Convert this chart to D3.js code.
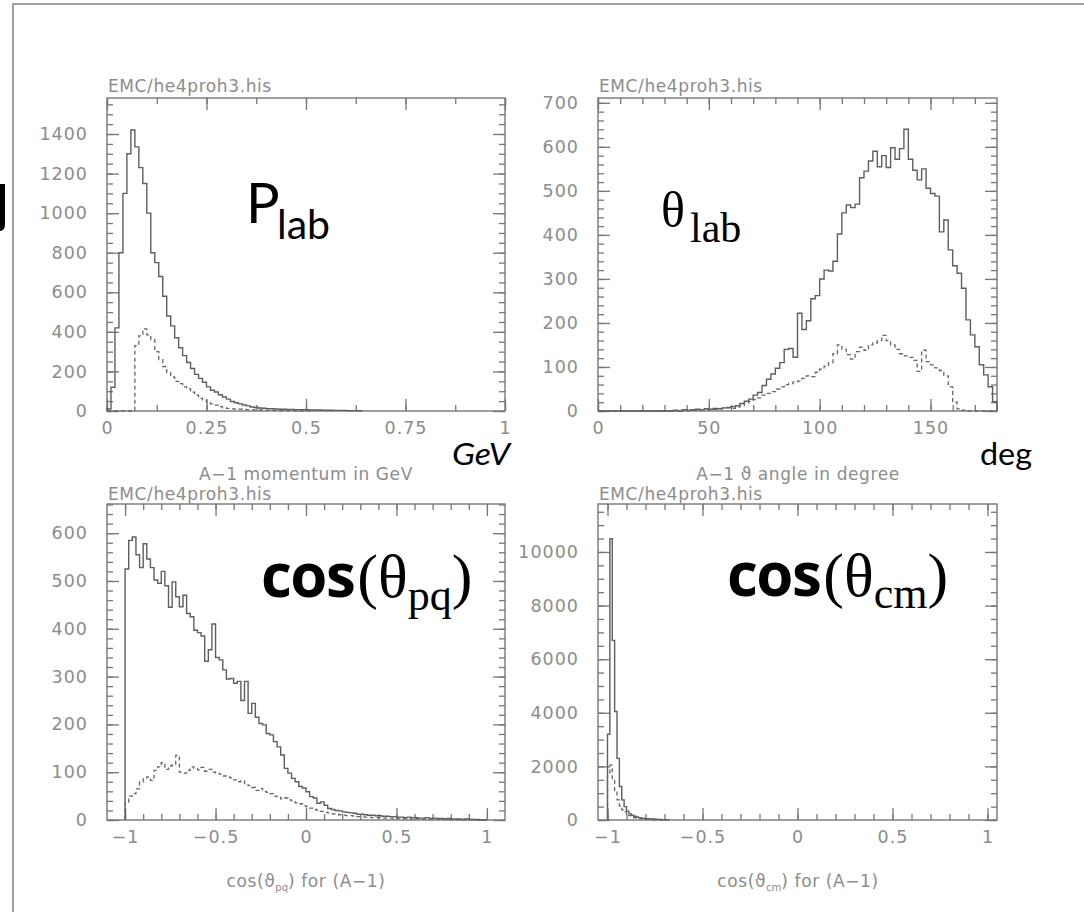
<!DOCTYPE html>
<html>
<head>
<meta charset="utf-8">
<script src="https://cdn.jsdelivr.net/npm/d3@7"></script>
<style>
    body { margin: 0; background: #fff; }
    svg { display: block; }
    .tick text { font-family: "DejaVu Sans", sans-serif; font-size: 17.5px; fill: #8c8c8c; letter-spacing: 1px; }
    .tick line { stroke: #777; stroke-width: 1.3; }
    .domain { display: none; }
    .hbook { font-family: "DejaVu Sans", sans-serif; font-size: 17px; fill: #8c8c8c; letter-spacing: 0.6px; }
</style>
</head>
<body>
<div id="chart"></div>
<script>
// ---- data: histogram counts per bin ----

// A-1 momentum in GeV, bins of 0.01 starting at 0
const pLabStart = 0, pLabBin = 0.01;
const pLabAll = [10, 120, 420, 800, 1100, 1300, 1420, 1335, 1230, 1150,
    1000, 800, 750, 680, 580, 480, 430, 370, 320, 280,
    245, 215, 185, 165, 145, 122, 105, 96, 82, 71,
    60, 48, 42, 36, 30, 26, 20, 18, 15, 14,
    12, 11, 10, 9, 9, 8, 8, 7, 7, 6,
    6, 5, 5, 5, 4, 4, 4, 3, 3, 3,
    2, 2, 2, 1];
const pLabCut = [0, 0, 0, 0, 0, 0, 0, 330, 380, 415,
    385, 360, 300, 260, 225, 195, 172, 150, 138, 122,
    112, 95, 80, 65, 55, 45, 36, 30, 22, 16,
    13, 11, 10, 9, 8, 7, 6, 6, 5, 4,
    4, 3, 3, 3, 2, 2, 2, 2, 1, 1, 1];

// A-1 theta angle in degree, bins of 2 deg starting at 0
const thLabStart = 0, thLabBin = 2;
const thLabAll = [0, 0, 0, 0, 0, 0, 0, 0, 0, 0,
    0, 0, 0, 0, 0, 0, 0, 2, 0, 3,
    2, 3, 4, 3, 5, 4, 6, 5, 7, 8,
    10, 12, 17, 22, 27, 36, 42, 58, 72, 84,
    97, 110, 140, 142, 122, 222, 185, 205, 255, 262,
    300, 320, 318, 340, 402, 450, 468, 462, 470, 530,
    545, 568, 590, 555, 580, 553, 598, 572, 596, 640,
    572, 547, 525, 550, 506, 494, 488, 407, 434, 366,
    330, 313, 279, 207, 173, 146, 105, 82, 55, 21];
const thLabCut = [0, 0, 0, 0, 0, 0, 0, 0, 0, 0,
    0, 0, 0, 0, 0, 0, 0, 1, 0, 2,
    1, 2, 2, 3, 3, 4, 4, 5, 6, 7,
    6, 9, 12, 18, 22, 26, 30, 36, 40, 44,
    50, 55, 60, 62, 66, 68, 74, 80, 78, 88,
    95, 102, 110, 130, 150, 140, 128, 118, 135, 145,
    138, 150, 155, 160, 172, 160, 150, 140, 130, 125,
    122, 115, 90, 138, 112, 105, 98, 92, 80, 55,
    20, 5, 2, 0, 0, 0, 0, 0, 0, 0];

// cos(theta_pq), bins of 0.02 starting at -1
const cosPqStart = -1, cosPqBin = 0.02;
const cosPqAll = [525, 585, 592, 555, 528, 578, 546, 528, 502, 495,
    520, 490, 445, 498, 467, 446, 470, 432, 425, 397,
    392, 385, 332, 356, 410, 340, 335, 314, 295, 296,
    286, 290, 250, 290, 223, 244, 215, 202, 199, 181,
    178, 164, 153, 136, 108, 98, 87, 80, 70, 67,
    59, 49, 46, 35, 38, 31, 24, 22, 20, 19,
    17, 16, 15, 14, 12, 12, 11, 10, 10, 9,
    9, 8, 8, 7, 7, 6, 6, 5, 6, 5,
    5, 4, 4, 5, 3, 4, 3, 3, 2, 3,
    2, 2, 2, 1, 2, 1, 1, 1, 0, 0];
const cosPqCut = [38, 50, 55, 65, 80, 86, 90, 83, 104, 111,
    120, 106, 113, 116, 135, 100, 98, 104, 111, 108,
    105, 110, 102, 106, 100, 98, 96, 92, 90, 88,
    84, 80, 82, 76, 72, 68, 62, 66, 60, 58,
    55, 50, 48, 44, 46, 42, 40, 36, 34, 30,
    28, 25, 22, 20, 18, 16, 15, 13, 12, 11,
    10, 9, 9, 8, 7, 7, 6, 6, 5, 5,
    5, 4, 4, 4, 3, 4, 3, 3, 3, 2,
    3, 2, 2, 2, 2, 2, 2, 1, 2, 1,
    1, 1, 1, 1, 1, 1, 1, 0, 0, 0];

// cos(theta_cm), bins of 0.0125 starting at -1
const cosCmStart = -1, cosCmBin = 0.0125;
const cosCmAll = [3200, 10500, 6700, 4050, 2300, 1250, 750, 500, 330, 230,
    180, 140, 110, 90, 70, 60, 50, 45, 40, 35,
    30, 25, 20, 15, 10, 5];
const cosCmCut = [1700, 2050, 1500, 1100, 750, 520, 380, 300, 220, 160,
    120, 90, 70, 55, 40, 30, 25, 20, 15, 10,
    8, 5, 3, 2];

// tick labels
const pLabXTicks = [0, 0.25, 0.5, 0.75, 1];
const pLabYTicks = [0, 200, 400, 600, 800, 1000, 1200, 1400];
const thLabXTicks = [0, 50, 100, 150];
const thLabYTicks = [0, 100, 200, 300, 400, 500, 600, 700];
const cosXTicks = [-1, -0.5, 0, 0.5, 1];
const cosPqYTicks = [0, 100, 200, 300, 400, 500, 600];
const cosCmYTicks = [0, 2000, 4000, 6000, 8000, 10000];

const fileTitle = "EMC/he4proh3.his";

// ---- drawing ----
const width = 1084, height = 912;
const svg = d3.select("#chart").append("svg")
    .attr("width", width)
    .attr("height", height);

svg.append("rect").attr("width", width).attr("height", height).attr("fill", "#fff");

// page frame (only left and top edges are visible)
svg.append("path")
    .attr("d", `M13,${height} V4 H${width}`)
    .attr("fill", "none")
    .attr("stroke", "#a0a0a0")
    .attr("stroke-width", 2);

// cut-off glyph at the left edge
svg.append("path")
    .attr("d", "M0,184 H5 V224 Q5,231 0,231 Z")
    .attr("fill", "#000");

const fmt = (d) => (d < 0 ? "\u2212" + (-d) : String(d));

function histPoints(start, bin, vals) {
    const pts = [[start, 0]];
    vals.forEach((v, i) => pts.push([start + i * bin, v]));
    pts.push([start + vals.length * bin, 0]);
    return pts;
}

function drawPanel(p) {
    const x = d3.scaleLinear().domain(p.xDomain).range([p.left, p.right]);
    const y = d3.scaleLinear().domain(p.yDomain).range([p.bottom, p.top]);
    const g = svg.append("g");
    const minorLen = 6, majorLen = 12;

    // minor ticks, all four sides, pointing inward
    g.append("g").attr("transform", `translate(0,${p.bottom})`)
        .call(d3.axisBottom(x).tickValues(p.xMinor).tickSize(-minorLen).tickFormat(""));
    g.append("g").attr("transform", `translate(0,${p.top})`)
        .call(d3.axisTop(x).tickValues(p.xMinor).tickSize(-minorLen).tickFormat(""));
    g.append("g").attr("transform", `translate(${p.left},0)`)
        .call(d3.axisLeft(y).tickValues(p.yMinor).tickSize(-minorLen).tickFormat(""));
    g.append("g").attr("transform", `translate(${p.right},0)`)
        .call(d3.axisRight(y).tickValues(p.yMinor).tickSize(-minorLen).tickFormat(""));

    // major ticks with labels on bottom and left
    g.append("g").attr("transform", `translate(0,${p.bottom})`)
        .call(d3.axisBottom(x).tickValues(p.xTicks).tickSizeInner(-majorLen).tickSizeOuter(0)
            .tickPadding(11).tickFormat(fmt));
    g.append("g").attr("transform", `translate(0,${p.top})`)
        .call(d3.axisTop(x).tickValues(p.xTicks).tickSize(-majorLen).tickFormat(""));
    g.append("g").attr("transform", `translate(${p.left},0)`)
        .call(d3.axisLeft(y).tickValues(p.yTicks).tickSizeInner(-majorLen).tickSizeOuter(0)
            .tickPadding(19).tickFormat(fmt));
    g.append("g").attr("transform", `translate(${p.right},0)`)
        .call(d3.axisRight(y).tickValues(p.yTicks).tickSize(-majorLen).tickFormat(""));

    // frame
    g.append("rect")
        .attr("x", p.left).attr("y", p.top)
        .attr("width", p.right - p.left).attr("height", p.bottom - p.top)
        .attr("fill", "none")
        .attr("stroke", "#777")
        .attr("stroke-width", 1.4);

    const line = d3.line()
        .x((d) => x(d[0]))
        .y((d) => y(d[1]))
        .curve(d3.curveStepAfter);

    // all events (solid) and selected (dashed)
    g.append("path")
        .datum(histPoints(p.start, p.bin, p.all))
        .attr("d", line)
        .attr("fill", "none")
        .attr("stroke", "#5e5e5e")
        .attr("stroke-width", 1.4);
    g.append("path")
        .datum(histPoints(p.start, p.bin, p.cut))
        .attr("d", line)
        .attr("fill", "none")
        .attr("stroke", "#666")
        .attr("stroke-width", 1.3)
        .attr("stroke-dasharray", "4,3");

    // file name above the frame
    g.append("text")
        .attr("class", "hbook")
        .attr("x", p.left + 1)
        .attr("y", p.top - p.titleGap)
        .text(fileTitle);

    return { x, y };
}

drawPanel({
    left: 107, right: 505, top: 98, bottom: 411, titleGap: 6,
    xDomain: [0, 1], yDomain: [0, 1582],
    xTicks: pLabXTicks, yTicks: pLabYTicks,
    xMinor: d3.range(0, 1.001, 0.125), yMinor: d3.range(0, 1581, 50),
    start: pLabStart, bin: pLabBin, all: pLabAll, cut: pLabCut
});

drawPanel({
    left: 598, right: 997, top: 98, bottom: 411, titleGap: 6,
    xDomain: [0, 180], yDomain: [0, 711],
    xTicks: thLabXTicks, yTicks: thLabYTicks,
    xMinor: d3.range(0, 180, 10), yMinor: d3.range(0, 711, 20),
    start: thLabStart, bin: thLabBin, all: thLabAll, cut: thLabCut
});

drawPanel({
    left: 107, right: 505, top: 504, bottom: 820, titleGap: 4,
    xDomain: [-1.1, 1.1], yDomain: [0, 661],
    xTicks: cosXTicks, yTicks: cosPqYTicks,
    xMinor: d3.range(-1, 1.001, 0.1), yMinor: d3.range(0, 661, 20),
    start: cosPqStart, bin: cosPqBin, all: cosPqAll, cut: cosPqCut
});

drawPanel({
    left: 598, right: 997, top: 504, bottom: 820, titleGap: 4,
    xDomain: [-1.05, 1.05], yDomain: [0, 11790],
    xTicks: cosXTicks, yTicks: cosCmYTicks,
    xMinor: d3.range(-1, 1.001, 0.1), yMinor: d3.range(0, 11790, 500),
    start: cosCmStart, bin: cosCmBin, all: cosCmAll, cut: cosCmCut
});

// HBOOK axis titles (printed between the rows and under the bottom panels)
svg.append("text").attr("class", "hbook").attr("x", 306).attr("y", 480)
    .attr("text-anchor", "middle").text("A\u22121 momentum in GeV");
svg.append("text").attr("class", "hbook").attr("x", 798).attr("y", 480)
    .attr("text-anchor", "middle").text("A\u22121 \u03d1 angle in degree");

function axisTitle(xc, sub) {
    const t = svg.append("text").attr("class", "hbook")
        .attr("x", xc).attr("y", 887).attr("text-anchor", "middle");
    t.append("tspan").text("cos(\u03d1");
    t.append("tspan").attr("dy", 4).style("font-size", "10px").style("letter-spacing", "0px").text(sub);
    t.append("tspan").attr("dy", -4).text(") for (A\u22121)");
}
axisTitle(306, "pq");
axisTitle(798, "cm");

// big black annotations
const sansBig = "Lato, 'Open Sans', sans-serif";
const serif = "'Liberation Serif', 'DejaVu Serif', serif";

svg.append("text").attr("x", 246).attr("y", 223)
    .style("font-family", sansBig).style("font-size", "56px").attr("fill", "#000").text("P");
svg.append("text").attr("x", 277).attr("y", 239)
    .style("font-family", sansBig).style("font-size", "41px").attr("fill", "#000").text("lab");

svg.append("text").attr("x", 661).attr("y", 227)
    .style("font-family", serif).style("font-size", "50px").attr("fill", "#000").text("\u03b8");
svg.append("text").attr("x", 690).attr("y", 242)
    .style("font-family", serif).style("font-size", "42px").attr("fill", "#000").text("lab");

function cosLabel(xCos, yBase, sub, subDy) {
    const t = svg.append("text").attr("x", xCos).attr("y", yBase).attr("fill", "#000");
    t.append("tspan")
        .style("font-family", "'Open Sans', Lato, sans-serif").style("font-weight", 700)
        .style("font-size", "60px").style("letter-spacing", "-1.5px").text("cos");
    t.append("tspan").attr("dx", 3)
        .style("font-family", serif).style("font-size", "62px").text("(\u03b8");
    t.append("tspan").attr("dy", subDy)
        .style("font-family", serif).style("font-size", "44px").text(sub);
    t.append("tspan").attr("dy", -subDy)
        .style("font-family", serif).style("font-size", "62px").text(")");
}
cosLabel(261, 597, "pq", 13);
cosLabel(727, 596, "cm", 12);

svg.append("text").attr("x", 452).attr("y", 465)
    .attr("textLength", 58).attr("lengthAdjust", "spacingAndGlyphs")
    .style("font-family", sansBig).style("font-style", "italic").style("font-size", "30px")
    .attr("fill", "#000").text("GeV");
svg.append("text").attr("x", 980).attr("y", 465)
    .attr("textLength", 52).attr("lengthAdjust", "spacingAndGlyphs")
    .style("font-family", sansBig).style("font-size", "30px")
    .attr("fill", "#000").text("deg");
</script>
</body>
</html>
